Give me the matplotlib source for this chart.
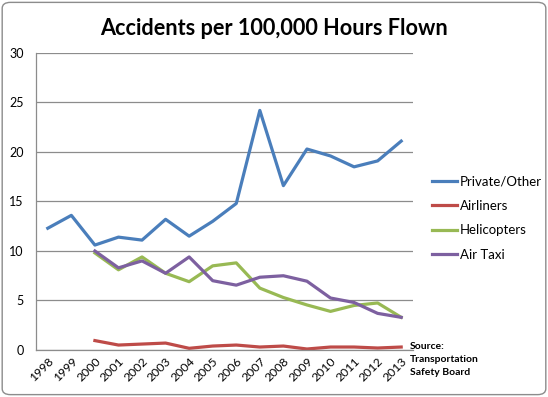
import matplotlib
matplotlib.use('Agg')
import matplotlib.pyplot as plt
from matplotlib.patches import FancyBboxPatch

years = ['1998', '1999', '2000', '2001', '2002', '2003', '2004', '2005',
         '2006', '2007', '2008', '2009', '2010', '2011', '2012', '2013']
private_other = [12.3, 13.6, 10.6, 11.4, 11.1, 13.2, 11.5, 13.0,
                 14.8, 24.2, 16.6, 20.3, 19.6, 18.5, 19.1, 21.1]
# series below start in 2000
airliners = [0.95, 0.5, 0.6, 0.7, 0.17, 0.4, 0.5, 0.3, 0.4, 0.1, 0.3, 0.3, 0.2, 0.3]
helicopters = [9.8, 8.1, 9.4, 7.75, 6.9, 8.5, 8.8, 6.25, 5.3, 4.55, 3.9, 4.5, 4.75, 3.3]
air_taxi = [10.0, 8.3, 9.0, 7.75, 9.4, 7.0, 6.55, 7.35, 7.5, 6.95, 5.25, 4.8, 3.7, 3.3]
yticks = [0, 5, 10, 15, 20, 25, 30]

plt.rcParams['font.family'] = ['Lato', 'DejaVu Sans']

fig = plt.figure(figsize=(5.48, 3.97), dpi=100)
ax = fig.add_axes([0.0657, 0.1184, 0.6879, 0.7481])

x_all = list(range(len(years)))
x_late = x_all[2:]
ax.plot(x_all, private_other, color='#4A7EBB', lw=2.3, label='Private/Other')
ax.plot(x_late, airliners, color='#BE4B48', lw=2.3, label='Airliners')
ax.plot(x_late, helicopters, color='#98B954', lw=2.3, label='Helicopters')
ax.plot(x_late, air_taxi, color='#7D60A0', lw=2.3, label='Air Taxi')

ax.set_xlim(-0.5, len(years) - 0.5)
ax.set_ylim(0, 30)
ax.set_yticks(yticks)
ax.set_xticks(x_all)
ax.set_xticklabels(years, rotation=45, ha='right', rotation_mode='anchor', fontsize=8.8)
ax.tick_params(axis='y', length=0, labelsize=9, pad=9)
ax.tick_params(axis='x', length=0, pad=4)
ax.grid(axis='y', color='#8c8c8c', lw=0.9)
ax.set_axisbelow(True)
for s in ['top', 'right']:
    ax.spines[s].set_visible(False)
for s in ['left', 'bottom']:
    ax.spines[s].set_color('#8c8c8c')
    ax.spines[s].set_linewidth(0.9)

ax.legend(loc='center left', bbox_to_anchor=(1.02, 0.444), frameon=False,
          fontsize=9.5, handlelength=1.9, handletextpad=0.2, labelspacing=0.95)

fig.text(0.5, 0.928, 'Accidents per 100,000 Hours Flown', ha='center', va='center',
         fontsize=15.6, fontweight='bold')
fig.text(0.748, 0.138, 'Source:\nTransportation\nSafety Board', ha='left', va='top',
         fontsize=7.5, fontweight='bold', linespacing=1.55)

fig.patches.append(FancyBboxPatch((0.004, 0.006), 0.992, 0.988,
                                  boxstyle='round,pad=0,rounding_size=0.015',
                                  transform=fig.transFigure, fill=False,
                                  edgecolor='#8c8c8c', lw=1.0))

fig.savefig('out.png', dpi=100)
